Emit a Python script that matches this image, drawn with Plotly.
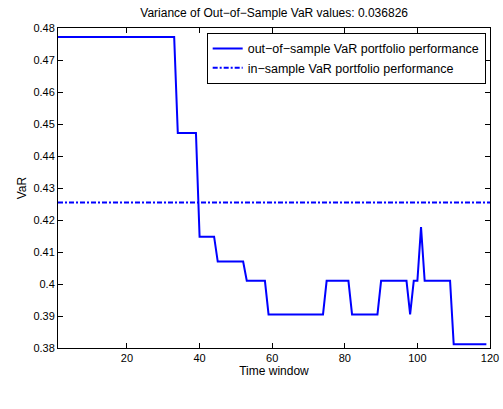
import plotly.graph_objects as go

time_window = list(range(1, 121))
var_out = ([0.4772] * 33 + [0.4472] * 6 + [0.4148] * 5 + [0.4070] * 8 + [0.4010] * 6 +
           [0.3905] * 16 + [0.4010] * 7 + [0.3905] * 8 + [0.4010] * 8 + [0.3905] +
           [0.4010] * 2 + [0.4178] + [0.4010] * 8 + [0.3812] * 10)
var_in = 0.4255

fig = go.Figure()
fig.add_trace(go.Scatter(x=time_window, y=var_out, mode='lines',
                         line=dict(color='#0000ff', width=2),
                         name='out\u2212of\u2212sample VaR portfolio performance'))
fig.add_trace(go.Scatter(x=[1, 120], y=[var_in, var_in], mode='lines',
                         line=dict(color='#0000ff', width=2, dash='5px,2px,2px,2px'),
                         name='in\u2212sample VaR portfolio performance'))

axis = dict(showgrid=False, zeroline=False, showline=True, mirror='ticks',
            linecolor='black', linewidth=1, ticks='inside', ticklen=5,
            tickcolor='black', tickfont=dict(size=11, color='black'),
            automargin=False)
fig.update_layout(
    width=503, height=409,
    margin=dict(l=58, r=13, t=28, b=61),
    paper_bgcolor='white', plot_bgcolor='white',
    font=dict(family='Liberation Sans, Arial', size=12, color='black'),
    title=dict(text='Variance of Out\u2212of\u2212Sample VaR values: 0.036826',
               x=0.545, xanchor='center', y=0.968, yanchor='middle',
               font=dict(size=12), automargin=False),
    xaxis=dict(axis, range=[1, 120], tickvals=[20, 40, 60, 80, 100, 120],
               title=dict(text='Time window', standoff=0, font=dict(size=12))),
    yaxis=dict(axis, range=[0.38, 0.48],
               tickvals=[0.38, 0.39, 0.4, 0.41, 0.42, 0.43, 0.44, 0.45, 0.46, 0.47, 0.48],
               ticktext=['0.38', '0.39', '0.4', '0.41', '0.42', '0.43', '0.44', '0.45', '0.46', '0.47', '0.48'],
               title=dict(text='VaR', standoff=4, font=dict(size=12))),
    legend=dict(x=0.99, y=0.985, xanchor='right', yanchor='top',
                bordercolor='black', borderwidth=1, bgcolor='white',
                font=dict(size=12.5), tracegroupgap=0),
)
# drop the page's default body margin so the figure sits at the window's corner
fig.write_html("out.html", config={'displayModeBar': False},
               post_script="document.body.style.margin='0';document.body.style.overflow='hidden';")
